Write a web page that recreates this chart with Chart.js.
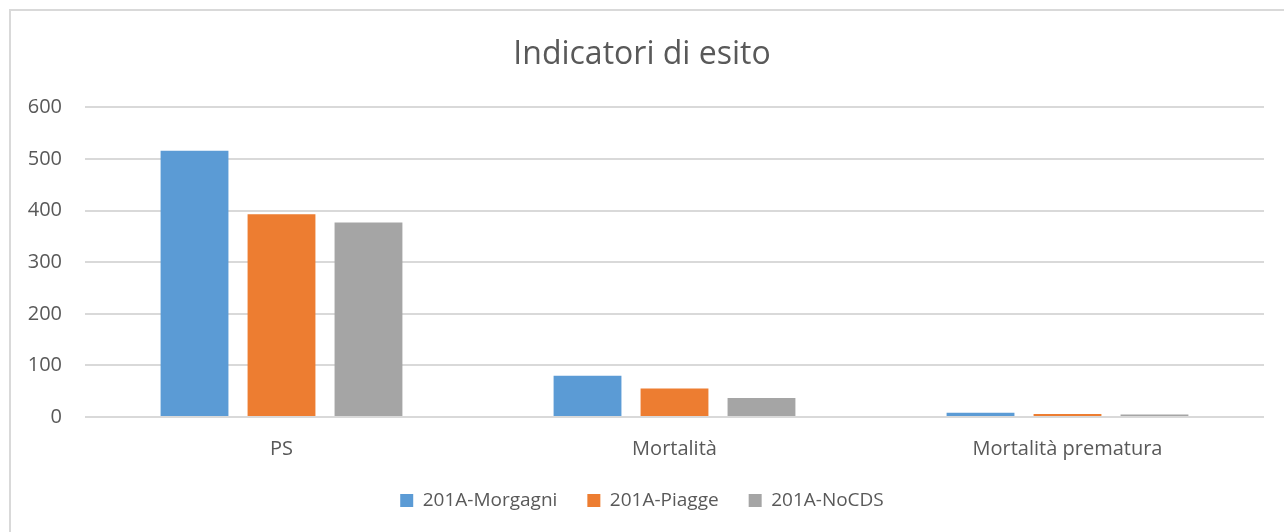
<!DOCTYPE html>
<html>
<head>
<meta charset="utf-8">
<script src="https://cdn.jsdelivr.net/npm/chart.js@4/dist/chart.umd.min.js"></script>
<style>
  html, body { margin: 0; padding: 0; background: #fff; }
  #wrap { position: relative; width: 1284px; height: 532px; }
  #frame { position: absolute; left: 9px; top: 9px; width: 1290px; height: 540px; border-left: 2px solid #d9d9d9; border-top: 2px solid #d9d9d9; pointer-events: none; }
  canvas { position: absolute; left: 0; top: 0; }
</style>
</head>
<body>
<div id="wrap">
  <canvas id="c" width="1284" height="532"></canvas>
  <div id="frame"></div>
</div>
<script>
const categories = ["PS", "Mortalità", "Mortalità prematura"];
const seriesNames = ["201A-Morgagni", "201A-Piagge", "201A-NoCDS"];
const morgagni = [516, 80, 8];
const piagge = [393, 55, 6];
const nocds = [377, 37, 5];
const yTicks = [0, 100, 200, 300, 400, 500, 600];

const colors = ["#5B9BD5", "#ED7D31", "#A5A5A5"];
const txt = "#595959";
const font = "'Open Sans', sans-serif";

const noLabelClip = {
  id: "noLabelClip",
  beforeDraw(chart) {
    Object.values(chart.scales).forEach(s => { s._computeLabelArea = () => undefined; });
  }
};

new Chart(document.getElementById("c"), {
  type: "bar",
  data: {
    labels: categories,
    datasets: [morgagni, piagge, nocds].map((d, i) => ({
      label: seriesNames[i],
      data: d,
      backgroundColor: colors[i],
      borderWidth: 0,
      categoryPercentage: 0.664,
      barPercentage: 0.78
    }))
  },
  plugins: [noLabelClip],
  options: {
    responsive: false,
    animation: false,
    layout: { padding: { left: 20, right: 20, top: 0, bottom: 12 } },
    plugins: {
      title: {
        display: true,
        text: "Indicatori di esito",
        color: txt,
        font: { family: font, size: 32, weight: "normal" },
        padding: { top: 36, bottom: 33 }
      },
      legend: {
        position: "bottom",
        labels: {
          color: txt,
          font: { family: font, size: 19 },
          boxWidth: 13,
          boxHeight: 13,
          padding: 30
        }
      },
      tooltip: { enabled: false }
    },
    scales: {
      x: {
        grid: { display: false },
        border: { display: false },
        afterFit: (s) => { s.height = s.height - 12; },
        ticks: { color: txt, font: { family: font, size: 20 }, padding: 12 }
      },
      y: {
        min: 0,
        max: 600,
        afterBuildTicks: (s) => { s.ticks = yTicks.map(v => ({ value: v })); },
        afterFit: (s) => { s.width = 65; },
        grid: { color: "#d9d9d9", lineWidth: 2, drawTicks: false },
        border: { display: false },
        ticks: { color: txt, font: { family: font, size: 20 }, padding: 23 }
      }
    }
  }
});
</script>
</body>
</html>
